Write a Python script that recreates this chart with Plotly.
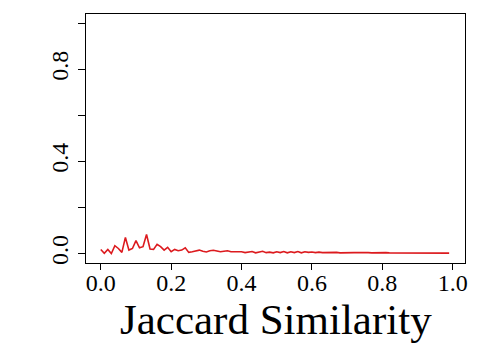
import plotly.graph_objects as go

# similarity bins (0.00 .. 0.99)
sim_bins = [round(i * 0.01, 2) for i in range(100)]
density = [
    0.018, 0.001, 0.018, 0.000, 0.034, 0.022, 0.005, 0.070, 0.015, 0.022,
    0.056, 0.025, 0.030, 0.083, 0.020, 0.018, 0.040, 0.030, 0.015, 0.027,
    0.008, 0.018, 0.012, 0.015, 0.025, 0.005, 0.008, 0.012, 0.015, 0.010,
    0.007, 0.012, 0.014, 0.011, 0.008, 0.010, 0.012, 0.008, 0.009, 0.007,
    0.008, 0.004, 0.007, 0.009, 0.003, 0.008, 0.010, 0.004, 0.006, 0.003,
    0.008, 0.004, 0.009, 0.003, 0.008, 0.004, 0.009, 0.003, 0.008, 0.005,
    0.007, 0.004, 0.006, 0.004, 0.005, 0.004, 0.006, 0.005, 0.003, 0.004,
    0.005, 0.003, 0.004, 0.004, 0.005, 0.003, 0.004, 0.003, 0.004, 0.003,
    0.003, 0.004, 0.003, 0.003, 0.003, 0.002, 0.003, 0.002, 0.002, 0.002,
    0.002, 0.002, 0.002, 0.002, 0.002, 0.002, 0.002, 0.002, 0.002, 0.002,
]

x_ticks = [0.0, 0.2, 0.4, 0.6, 0.8, 1.0]
x_labels = ["0.0", "0.2", "0.4", "0.6", "0.8", "1.0"]
y_ticks = [0.0, 0.2, 0.4, 0.6, 0.8, 1.0]
y_labels = ["0.0", "", "0.4", "", "0.8", ""]
x_title = "Jaccard Similarity"

serif = "Liberation Serif"

fig = go.Figure(go.Scatter(
    x=sim_bins,
    y=density,
    mode="lines",
    line=dict(color="#dc1a1e", width=1.6),
    showlegend=False,
))

# the page body adds an 8px offset, so margins are shifted to compensate
fig.update_layout(
    width=480,
    height=350,
    margin=dict(l=78, r=23, t=6, b=95),
    plot_bgcolor="white",
    paper_bgcolor="white",
    font=dict(family=serif, color="black"),
)
fig.add_annotation(
    text=x_title,
    xref="paper", yref="paper",
    x=0.5, y=-0.225,
    xanchor="center", yanchor="middle",
    showarrow=False,
    font=dict(size=43),
)
fig.update_xaxes(
    range=[-0.042, 1.035],
    tickvals=x_ticks,
    ticktext=x_labels,
    ticks="outside",
    ticklen=6,
    tickcolor="black",
    tickfont=dict(size=24),
    ticklabelstandoff=-8,
    showline=True,
    linecolor="black",
    linewidth=1,
    mirror=True,
    showgrid=False,
    zeroline=False,
    automargin=False,
)
fig.update_yaxes(
    range=[-0.041, 1.04],
    tickvals=y_ticks,
    ticktext=y_labels,
    ticks="outside",
    ticklen=7,
    tickcolor="black",
    tickangle=-90,
    tickfont=dict(size=24),
    showline=True,
    linecolor="black",
    linewidth=1,
    mirror=True,
    showgrid=False,
    zeroline=False,
    automargin=False,
)

fig.write_html("out.html")
